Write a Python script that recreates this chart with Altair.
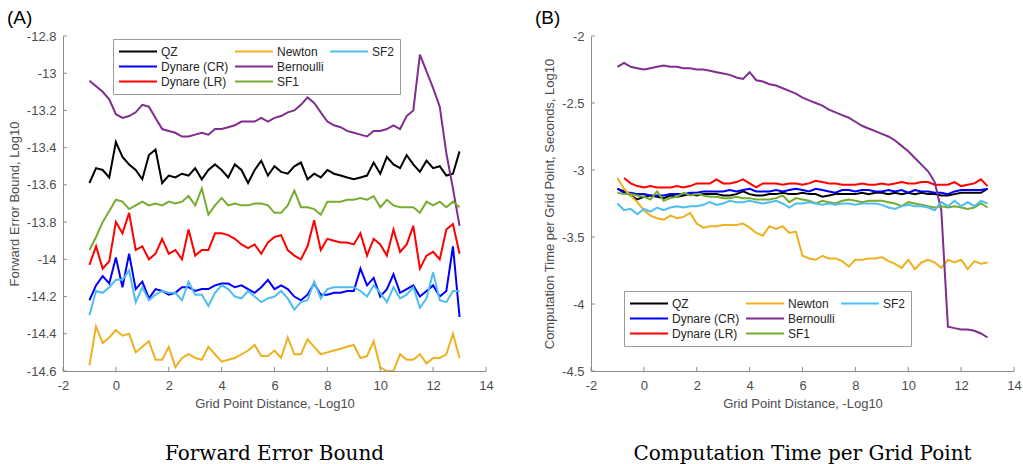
import altair as alt
import pandas as pd

# ---------------- data ----------------
X = [-1.0, -0.75, -0.5, -0.25, 0.0, 0.25, 0.5, 0.75, 1.0, 1.25, 1.5, 1.75, 2.0, 2.25,
     2.5, 2.75, 3.0, 3.25, 3.5, 3.75, 4.0, 4.25, 4.5, 4.75, 5.0, 5.25, 5.5, 5.75, 6.0,
     6.25, 6.5, 6.75, 7.0, 7.25, 7.5, 7.75, 8.0, 8.25, 8.5, 8.75, 9.0, 9.25, 9.5, 9.75,
     10.0, 10.25, 10.5, 10.75, 11.0, 11.25, 11.5, 11.75, 12.0, 12.25, 12.5, 12.75, 13.0]

SERIES = ["QZ", "Dynare (CR)", "Dynare (LR)", "Newton", "Bernoulli", "SF1", "SF2"]
COLORS = ["#000000", "#0000FF", "#FF0000", "#EDB120", "#7E2F8E", "#77AC30", "#4DBEEE"]

# Panel A: forward error bound, log10
ERR_QZ = [-13.59, -13.51, -13.52, -13.56, -13.37, -13.45, -13.49, -13.52, -13.57, -13.44,
          -13.41, -13.59, -13.55, -13.56, -13.54, -13.55, -13.51, -13.57, -13.52, -13.49,
          -13.52, -13.56, -13.49, -13.52, -13.59, -13.52, -13.47, -13.55, -13.50, -13.53,
          -13.54, -13.50, -13.48, -13.57, -13.54, -13.56, -13.52, -13.54, -13.55, -13.56,
          -13.57, -13.56, -13.55, -13.48, -13.54, -13.45, -13.49, -13.51, -13.44, -13.49,
          -13.53, -13.47, -13.51, -13.50, -13.55, -13.54, -13.42]
ERR_CR = [-14.22, -14.14, -14.09, -14.13, -13.99, -14.15, -13.97, -14.16, -14.12, -14.21,
          -14.16, -14.17, -14.19, -14.18, -14.15, -14.15, -14.17, -14.16, -14.16, -14.14,
          -14.13, -14.13, -14.15, -14.14, -14.16, -14.18, -14.15, -14.11, -14.16, -14.14,
          -14.16, -14.20, -14.22, -14.19, -14.13, -14.19, -14.19, -14.18, -14.18, -14.17,
          -14.17, -14.05, -14.14, -14.10, -14.20, -14.16, -14.08, -14.18, -14.16, -14.14,
          -14.20, -14.17, -14.14, -14.20, -14.17, -13.93, -14.31]
ERR_LR = [-14.03, -13.93, -14.05, -14.01, -13.80, -13.86, -13.75, -13.95, -13.93, -14.00,
          -13.97, -13.89, -13.97, -13.95, -14.00, -13.84, -13.98, -13.95, -13.95, -13.86,
          -13.86, -13.87, -13.89, -13.92, -13.94, -13.92, -13.97, -13.91, -13.88, -13.87,
          -13.95, -13.98, -14.00, -13.93, -13.79, -13.95, -13.89, -13.90, -13.91, -13.91,
          -13.92, -13.86, -13.98, -13.89, -13.92, -13.98, -13.84, -13.96, -13.92, -13.82,
          -14.05, -13.98, -13.96, -14.00, -13.84, -13.81, -13.97]
ERR_NEWTON = [-14.57, -14.36, -14.45, -14.42, -14.38, -14.41, -14.40, -14.50, -14.47, -14.44,
              -14.54, -14.54, -14.47, -14.58, -14.53, -14.51, -14.53, -14.54, -14.47, -14.51,
              -14.55, -14.54, -14.53, -14.51, -14.49, -14.46, -14.52, -14.52, -14.49, -14.53,
              -14.42, -14.51, -14.51, -14.43, -14.47, -14.51, -14.50, -14.49, -14.48, -14.47,
              -14.46, -14.53, -14.52, -14.44, -14.58, -14.60, -14.60, -14.51, -14.54, -14.54,
              -14.51, -14.56, -14.53, -14.53, -14.51, -14.40, -14.53]
ERR_BERN = [-13.04, -13.07, -13.10, -13.14, -13.22, -13.24, -13.23, -13.21, -13.17, -13.18,
            -13.24, -13.30, -13.31, -13.32, -13.34, -13.34, -13.33, -13.32, -13.33, -13.30,
            -13.30, -13.29, -13.28, -13.26, -13.26, -13.26, -13.24, -13.26, -13.24, -13.23,
            -13.21, -13.20, -13.17, -13.13, -13.16, -13.21, -13.26, -13.28, -13.29, -13.31,
            -13.32, -13.33, -13.34, -13.31, -13.31, -13.30, -13.28, -13.30, -13.23, -13.20,
            -12.90, -12.99, -13.08, -13.18, -13.43, -13.62, -13.82]
ERR_SF1 = [-13.95, -13.88, -13.80, -13.74, -13.68, -13.69, -13.73, -13.71, -13.69, -13.71,
           -13.70, -13.71, -13.69, -13.70, -13.69, -13.66, -13.71, -13.62, -13.76, -13.71,
           -13.67, -13.71, -13.70, -13.71, -13.71, -13.70, -13.70, -13.71, -13.75, -13.75,
           -13.71, -13.63, -13.72, -13.72, -13.73, -13.76, -13.69, -13.69, -13.69, -13.68,
           -13.68, -13.67, -13.68, -13.66, -13.72, -13.68, -13.71, -13.72, -13.72, -13.72,
           -13.75, -13.69, -13.71, -13.69, -13.72, -13.69, -13.72]
ERR_SF2 = [-14.30, -14.17, -14.18, -14.15, -14.11, -14.11, -14.06, -14.23, -14.15, -14.22,
           -14.19, -14.17, -14.18, -14.18, -14.22, -14.12, -14.19, -14.19, -14.25, -14.18,
           -14.14, -14.16, -14.20, -14.21, -14.17, -14.20, -14.23, -14.21, -14.20, -14.17,
           -14.21, -14.27, -14.23, -14.22, -14.12, -14.21, -14.16, -14.15, -14.15, -14.15,
           -14.15, -14.17, -14.20, -14.14, -14.18, -14.23, -14.15, -14.21, -14.19, -14.15,
           -14.26, -14.21, -14.07, -14.22, -14.23, -14.17, -14.17]

# Panel B: computation time per grid point, seconds, log10
TIME_QZ = [-3.14, -3.16, -3.19, -3.22, -3.20, -3.19, -3.20, -3.21, -3.19, -3.20,
           -3.19, -3.18, -3.19, -3.18, -3.18, -3.18, -3.19, -3.19, -3.18, -3.16,
           -3.18, -3.19, -3.19, -3.18, -3.18, -3.17, -3.18, -3.18, -3.17, -3.18,
           -3.18, -3.20, -3.19, -3.18, -3.18, -3.18, -3.18, -3.17, -3.18, -3.17,
           -3.17, -3.18, -3.17, -3.18, -3.17, -3.18, -3.17, -3.18, -3.18, -3.19,
           -3.19, -3.18, -3.17, -3.17, -3.17, -3.17, -3.14]
TIME_CR = [-3.14, -3.17, -3.17, -3.18, -3.18, -3.19, -3.19, -3.19, -3.18, -3.18,
           -3.18, -3.17, -3.17, -3.16, -3.16, -3.16, -3.16, -3.15, -3.16, -3.15,
           -3.14, -3.16, -3.16, -3.16, -3.15, -3.16, -3.15, -3.14, -3.15, -3.16,
           -3.14, -3.15, -3.16, -3.17, -3.15, -3.15, -3.16, -3.15, -3.15, -3.16,
           -3.16, -3.15, -3.16, -3.15, -3.17, -3.15, -3.16, -3.16, -3.17, -3.17,
           -3.18, -3.16, -3.15, -3.15, -3.15, -3.15, -3.14]
TIME_LR = [None, -3.06, -3.10, -3.12, -3.13, -3.12, -3.13, -3.13, -3.13, -3.12,
           -3.13, -3.12, -3.10, -3.10, -3.10, -3.07, -3.10, -3.10, -3.09, -3.07,
           -3.10, -3.13, -3.10, -3.10, -3.10, -3.11, -3.10, -3.10, -3.11, -3.10,
           -3.08, -3.09, -3.10, -3.10, -3.11, -3.11, -3.11, -3.10, -3.11, -3.11,
           -3.10, -3.11, -3.10, -3.09, -3.10, -3.10, -3.09, -3.09, -3.11, -3.11,
           -3.11, -3.09, -3.12, -3.11, -3.10, -3.07, -3.12]
TIME_NEWTON = [-3.06, -3.14, -3.19, -3.24, -3.30, -3.34, -3.36, -3.37, -3.34, -3.36,
               -3.35, -3.32, -3.40, -3.43, -3.42, -3.42, -3.41, -3.41, -3.41, -3.40,
               -3.43, -3.47, -3.49, -3.42, -3.44, -3.42, -3.47, -3.46, -3.64, -3.66,
               -3.67, -3.64, -3.66, -3.66, -3.68, -3.72, -3.67, -3.67, -3.66, -3.66,
               -3.65, -3.68, -3.70, -3.73, -3.67, -3.74, -3.69, -3.67, -3.69, -3.73,
               -3.67, -3.69, -3.67, -3.74, -3.68, -3.70, -3.69]
TIME_BERN = [-2.23, -2.20, -2.23, -2.24, -2.25, -2.24, -2.23, -2.22, -2.23, -2.23,
             -2.24, -2.24, -2.25, -2.25, -2.26, -2.27, -2.28, -2.29, -2.31, -2.32,
             -2.27, -2.33, -2.34, -2.36, -2.37, -2.39, -2.41, -2.43, -2.46, -2.48,
             -2.50, -2.52, -2.55, -2.57, -2.59, -2.61, -2.64, -2.67, -2.69, -2.71,
             -2.73, -2.75, -2.78, -2.82, -2.86, -2.91, -2.96, -3.01, -3.09, -3.30,
             -4.17, -4.18, -4.19, -4.19, -4.20, -4.22, -4.25]
TIME_SF1 = [-3.17, -3.18, -3.18, -3.19, -3.20, -3.22, -3.16, -3.23, -3.21, -3.20,
            -3.17, -3.19, -3.18, -3.19, -3.20, -3.20, -3.21, -3.21, -3.20, -3.21,
            -3.21, -3.22, -3.22, -3.22, -3.21, -3.19, -3.24, -3.21, -3.22, -3.23,
            -3.25, -3.23, -3.24, -3.25, -3.23, -3.22, -3.23, -3.24, -3.23, -3.23,
            -3.23, -3.24, -3.25, -3.27, -3.24, -3.25, -3.26, -3.27, -3.28, -3.27,
            -3.28, -3.27, -3.28, -3.29, -3.28, -3.25, -3.28]
TIME_SF2 = [-3.25, -3.30, -3.29, -3.33, -3.29, -3.31, -3.28, -3.30, -3.28, -3.27,
            -3.28, -3.27, -3.27, -3.26, -3.24, -3.26, -3.25, -3.23, -3.24, -3.24,
            -3.23, -3.24, -3.25, -3.24, -3.23, -3.25, -3.28, -3.25, -3.25, -3.24,
            -3.25, -3.26, -3.25, -3.26, -3.25, -3.25, -3.26, -3.25, -3.25, -3.25,
            -3.26, -3.28, -3.29, -3.27, -3.26, -3.27, -3.27, -3.28, -3.30, -3.24,
            -3.27, -3.23, -3.27, -3.24, -3.27, -3.23, -3.25]

X_TICKS = [-2, 0, 2, 4, 6, 8, 10, 12, 14]
ERR_TICKS = [-12.8, -13.0, -13.2, -13.4, -13.6, -13.8, -14.0, -14.2, -14.4, -14.6]
TIME_TICKS = [-2.0, -2.5, -3.0, -3.5, -4.0, -4.5]

PANEL_LABELS = ["(A)", "(B)"]
PANEL_TITLES = ["Forward Error Bound", "Computation Time per Grid Point"]
X_TITLE = "Grid Point Distance, -Log10"
Y_TITLES = ["Forward Error Bound, Log10", "Computation Time per Grid Point, Seconds, Log10"]

# legend: 3 columns filled column-wise; a blank last slot keeps the 3+2+2 layout
BLANK = " "
LEGEND_ORDER = SERIES + [BLANK]
LEGEND_RANGE = COLORS + ["transparent"]


def long_frame(cols):
    rows = []
    for s, vals in zip(SERIES, cols):
        assert len(vals) == len(X), (s, len(vals))
        for x, v in zip(X, vals):
            if v is not None:
                rows.append({"x": x, "value": v, "series": s})
    return pd.DataFrame(rows)


err_df = long_frame([ERR_QZ, ERR_CR, ERR_LR, ERR_NEWTON, ERR_BERN, ERR_SF1, ERR_SF2])
time_df = long_frame([TIME_QZ, TIME_CR, TIME_LR, TIME_NEWTON, TIME_BERN, TIME_SF1, TIME_SF2])

# ---------------- styling ----------------
W, H = 423, 335
AXC = "#8c8c8c"
TXT = "#4d4d4d"
SANS = "Liberation Sans"
FIX_MINUS = "replace(datum.label, '\u2212', '-')"


def panel(df, ydom, yticks, ytitle, title, label, legend_xy):
    xscale = alt.Scale(domain=[-2, 14], nice=False)
    yscale = alt.Scale(domain=ydom, nice=False, zero=False)
    xaxis = alt.Axis(values=X_TICKS, tickSize=0, domainColor=AXC, labelFont=SANS,
                     labelFontSize=13, labelColor=TXT, labelPadding=8, labelFlush=False,
                     labelOverlap=False, labelExpr=FIX_MINUS, titleFont=SANS,
                     titleFontSize=13, titleFontWeight="normal", titleColor=TXT,
                     titlePadding=5, grid=False)
    yaxis = alt.Axis(values=yticks, tickSize=0, domainColor=AXC, labelFont=SANS,
                     labelFontSize=13, labelColor=TXT, labelPadding=7, labelFlush=False,
                     labelOverlap=False, format="~g", labelExpr=FIX_MINUS, titleFont=SANS,
                     titleFontSize=13, titleFontWeight="normal", titleColor=TXT,
                     titlePadding=5, grid=False)
    legend = alt.Legend(title=None, orient="none", legendX=legend_xy[0], legendY=legend_xy[1],
                        columns=3, symbolType="stroke", symbolSize=1444, symbolStrokeWidth=2,
                        clipHeight=15, labelFont=SANS, labelFontSize=12, labelColor="#262626",
                        labelOffset=3, padding=5, strokeColor="#9a9a9a", fillColor="white",
                        columnPadding=5, rowPadding=0, gridAlign="each")
    lines = alt.Chart(df).mark_line(strokeWidth=2, clip=True).encode(
        x=alt.X("x:Q", scale=xscale, axis=xaxis, title=X_TITLE),
        y=alt.Y("value:Q", scale=yscale, axis=yaxis, title=ytitle),
        color=alt.Color("series:N", scale=alt.Scale(domain=LEGEND_ORDER, range=LEGEND_RANGE),
                        legend=legend),
    )
    xt = alt.Chart(pd.DataFrame({"t": X_TICKS})).mark_rule(color=AXC, strokeWidth=1).encode(
        x=alt.X("t:Q", scale=xscale, axis=xaxis, title=X_TITLE),
        y=alt.value(H), y2=alt.value(H - 4))
    yt = alt.Chart(pd.DataFrame({"t": yticks})).mark_rule(color=AXC, strokeWidth=1).encode(
        y=alt.Y("t:Q", scale=yscale, axis=yaxis, title=ytitle),
        x=alt.value(0), x2=alt.value(4))
    lab = alt.Chart(pd.DataFrame({"lab": [label]})).mark_text(
        align="left", baseline="middle", font=SANS, fontSize=19, color="black"
    ).encode(text="lab:N", x=alt.value(-56), y=alt.value(-18))
    return alt.layer(lines, xt, yt, lab).properties(
        width=W, height=H,
        title=alt.TitleParams(title, orient="bottom", anchor="middle", frame="group",
                              font="DejaVu Serif", fontSize=20, fontWeight="normal",
                              color="black", offset=34),
    )


left = panel(err_df, [-14.6, -12.8], ERR_TICKS, Y_TITLES[0], PANEL_TITLES[0],
             PANEL_LABELS[0], (50, 3))
right = panel(time_df, [-4.5, -2.0], TIME_TICKS, Y_TITLES[1], PANEL_TITLES[1],
              PANEL_LABELS[1], (33, 255))

chart = alt.hconcat(left, right, spacing=105, bounds="flush").resolve_scale(
    color="independent"
).properties(
    padding={"left": 7, "top": 9, "right": 0, "bottom": 0},
    background="white",
).configure_view(stroke=None)

chart.save("out.html", embed_options={"renderer": "svg", "actions": False})
